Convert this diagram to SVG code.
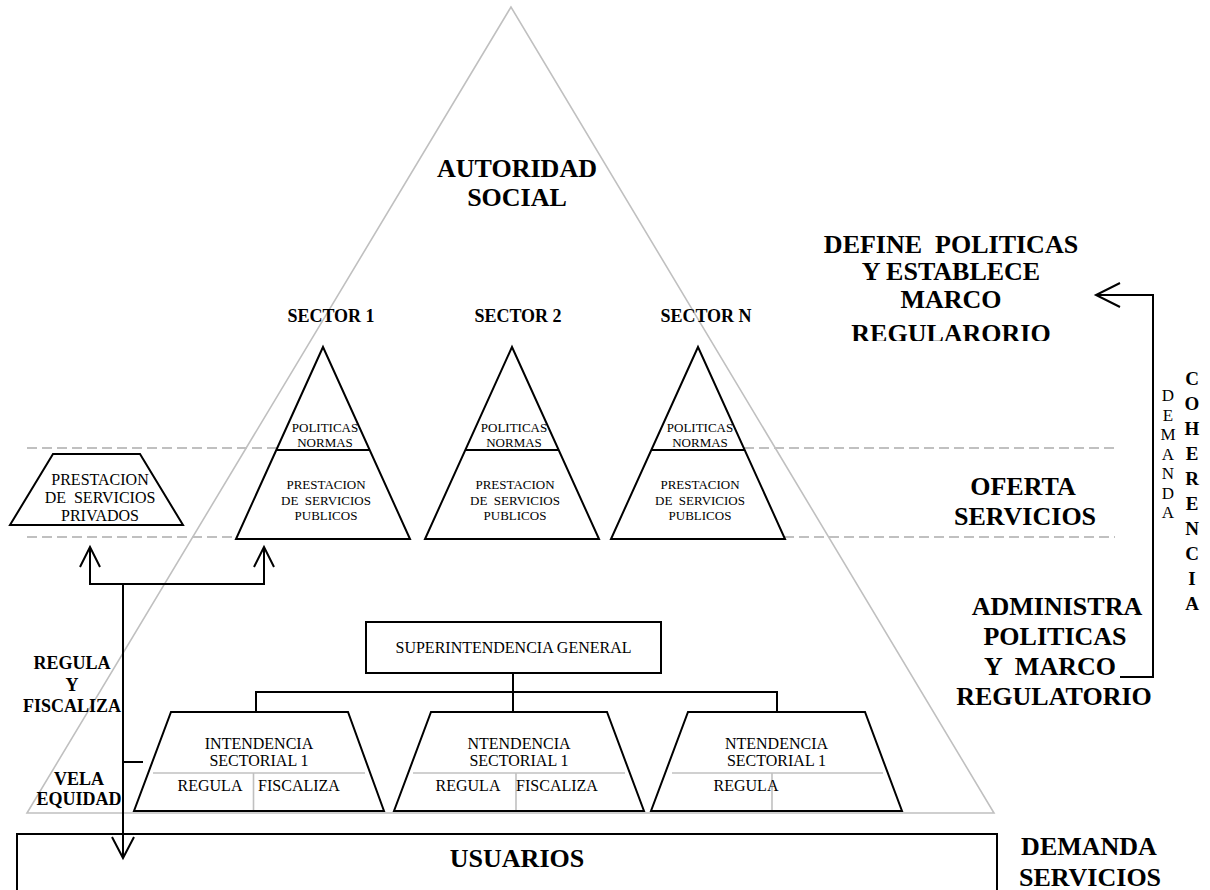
<svg xmlns="http://www.w3.org/2000/svg" width="1210" height="890" viewBox="0 0 1210 890">
<defs>
<style>
text{font-family:"Liberation Serif","Times New Roman",serif;fill:#000}
.lab{font-size:26px;font-weight:bold;text-anchor:middle}
.sec{font-size:18px;font-weight:bold;text-anchor:middle}
.s13{font-size:13px;text-anchor:middle}
.s16{font-size:16px;text-anchor:middle}
.vr{font-size:17px;text-anchor:middle}
.vb{font-size:19px;font-weight:bold;text-anchor:middle}
.ln{fill:none;stroke:#000;stroke-width:2}
.node{fill:#fff;stroke:#000;stroke-width:2}
.gray{fill:none;stroke:#c0c0c0;stroke-width:1.6}
.dash{fill:none;stroke:#c0c0c0;stroke-width:2;stroke-dasharray:10 5}
.pre{white-space:pre}
</style>
<clipPath id="clipDef"><rect x="780" y="200" width="330" height="141"/></clipPath>
</defs>
<rect width="1210" height="890" fill="#fff"/>

<g id="autoridad-social">
<polygon class="gray" points="511,7 27,813 994,813"/>
<text class="lab" x="517" y="177">AUTORIDAD</text>
<text class="lab" x="517" y="206">SOCIAL</text>
</g>

<g id="bands">
<line class="dash" x1="27" y1="448" x2="277" y2="448"/>
<line class="dash" x1="744" y1="448" x2="1115" y2="448"/>
<line class="dash" x1="27" y1="537" x2="237" y2="537"/>
<line class="dash" x1="784" y1="537" x2="1115" y2="537"/>
</g>

<g id="sector-1">
<text class="sec" x="331" y="322">SECTOR 1</text>
<polygon class="node" points="323,347 236,539 410,539"/>
<line class="ln" x1="276.3" y1="450" x2="369.7" y2="450"/>
<text class="s13" x="325" y="432">POLITICAS</text>
<text class="s13" x="325" y="447">NORMAS</text>
<text class="s13 pre" x="326" y="489">PRESTACION</text>
<text class="s13 pre" x="326" y="504.5">DE  SERVICIOS</text>
<text class="s13 pre" x="326" y="520">PUBLICOS</text>
</g>

<g id="sector-2">
<text class="sec" x="518" y="322">SECTOR 2</text>
<polygon class="node" points="512,347 425,539 599,539"/>
<line class="ln" x1="465.3" y1="450" x2="558.7" y2="450"/>
<text class="s13" x="514" y="432">POLITICAS</text>
<text class="s13" x="514" y="447">NORMAS</text>
<text class="s13 pre" x="515" y="489">PRESTACION</text>
<text class="s13 pre" x="515" y="504.5">DE  SERVICIOS</text>
<text class="s13 pre" x="515" y="520">PUBLICOS</text>
</g>

<g id="sector-n">
<text class="sec" x="706" y="322">SECTOR N</text>
<polygon class="node" points="698,347 611,539 785,539"/>
<line class="ln" x1="651.3" y1="450" x2="744.7" y2="450"/>
<text class="s13" x="700" y="432">POLITICAS</text>
<text class="s13" x="700" y="447">NORMAS</text>
<text class="s13 pre" x="700" y="489">PRESTACION</text>
<text class="s13 pre" x="700" y="504.5">DE  SERVICIOS</text>
<text class="s13 pre" x="700" y="520">PUBLICOS</text>
</g>

<g id="privados">
<polygon class="node" points="53,454 140,454 183,525 10,525"/>
<text class="s16 pre" x="100" y="485">PRESTACION</text>
<text class="s16 pre" x="100" y="503">DE  SERVICIOS</text>
<text class="s16 pre" x="100" y="521">PRIVADOS</text>
</g>

<g id="superintendencia">
<rect class="node" x="366" y="622" width="295" height="51"/>
<text class="s16" x="513.5" y="653">SUPERINTENDENCIA GENERAL</text>
</g>

<g id="intendencia-1">
<polygon class="node" points="171,712 348,712 384,811 134,811"/>
<line class="gray" x1="153" y1="773" x2="365" y2="773"/>
<line class="gray" x1="253.5" y1="773" x2="253.5" y2="810"/>
<text class="s16" x="259" y="749">INTENDENCIA</text>
<text class="s16" x="259" y="766">SECTORIAL 1</text>
<text class="s16" x="210" y="791">REGULA</text>
<text class="s16" x="299" y="791">FISCALIZA</text>
</g>

<g id="intendencia-2">
<polygon class="node" points="431,712 607,712 644,811 394,811"/>
<line class="gray" x1="413" y1="773" x2="625" y2="773"/>
<line class="gray" x1="516" y1="773" x2="516" y2="810"/>
<text class="s16" x="519" y="749">NTENDENCIA</text>
<text class="s16" x="519" y="766">SECTORIAL 1</text>
<text class="s16" x="468" y="791">REGULA</text>
<text class="s16" x="557" y="791">FISCALIZA</text>
</g>

<g id="intendencia-3">
<polygon class="node" points="688,712 865,712 902,811 651,811"/>
<line class="gray" x1="672" y1="773" x2="883" y2="773"/>
<line class="gray" x1="772" y1="773" x2="772" y2="810"/>
<text class="s16" x="776.5" y="749">NTENDENCIA</text>
<text class="s16" x="776.5" y="766">SECTORIAL 1</text>
<text class="s16" x="746" y="791">REGULA</text>
</g>

<g id="usuarios">
<rect class="node" x="17" y="834" width="980" height="80"/>
<text class="lab" x="517" y="867">USUARIOS</text>
</g>

<g id="labels">
<text class="sec" x="72" y="669">REGULA</text>
<text class="sec" x="72" y="691">Y</text>
<text class="sec" x="72" y="712">FISCALIZA</text>
<text class="sec" x="79" y="785">VELA</text>
<text class="sec" x="79" y="805">EQUIDAD</text>
<g clip-path="url(#clipDef)">
<text class="lab pre" x="951" y="252.5">DEFINE  POLITICAS</text>
<text class="lab pre" x="951" y="280">Y ESTABLECE</text>
<text class="lab pre" x="951" y="307.5">MARCO</text>
<text class="lab pre" x="951" y="342">REGULARORIO</text>
</g>
<text class="lab" x="1023" y="495">OFERTA</text>
<text class="lab" x="1025" y="525">SERVICIOS</text>
<text class="lab" x="1057" y="615">ADMINISTRA</text>
<text class="lab" x="1055" y="645">POLITICAS</text>
<text class="lab pre" x="1050" y="675">Y  MARCO</text>
<text class="lab" x="1054" y="705">REGULATORIO</text>
<text class="lab" x="1089" y="855">DEMANDA</text>
<text class="lab" x="1090" y="886">SERVICIOS</text>
<text id="demanda-vertical" class="vr" x="1168" y="401"><tspan x="1168" y="401">D</tspan><tspan x="1168" y="420.5">E</tspan><tspan x="1168" y="440">M</tspan><tspan x="1168" y="459.5">A</tspan><tspan x="1168" y="479">N</tspan><tspan x="1168" y="498.5">D</tspan><tspan x="1168" y="518">A</tspan></text>
<text id="coherencia-vertical" class="vb" x="1192" y="385"><tspan x="1192" y="385">C</tspan><tspan x="1192" y="410">O</tspan><tspan x="1192" y="435">H</tspan><tspan x="1192" y="460">E</tspan><tspan x="1192" y="485">R</tspan><tspan x="1192" y="510">E</tspan><tspan x="1192" y="535">N</tspan><tspan x="1192" y="560">C</tspan><tspan x="1192" y="585">I</tspan><tspan x="1192" y="610">A</tspan></text>
</g>

<g id="connectors">
<polyline class="ln" points="513,673 513,692"/>
<polyline class="ln" points="256,712 256,692 777,692 777,712"/>
<line class="ln" x1="513" y1="692" x2="513" y2="712"/>
<polyline class="ln" points="90,548 90,584 264,584 264,548"/>
<polyline class="ln" points="80,567 90,547 100,567"/>
<polyline class="ln" points="254,567 264,547 274,567"/>
<line class="ln" x1="123" y1="584" x2="123" y2="857"/>
<polyline class="ln" points="112,837 123,858 134,837"/>
<line class="ln" x1="123" y1="762" x2="143" y2="762"/>
<polyline class="ln" points="1120,677 1153,677 1153,295 1096,295"/>
<polyline class="ln" points="1120,283 1096,295 1120,307"/>
</g>
</svg>
